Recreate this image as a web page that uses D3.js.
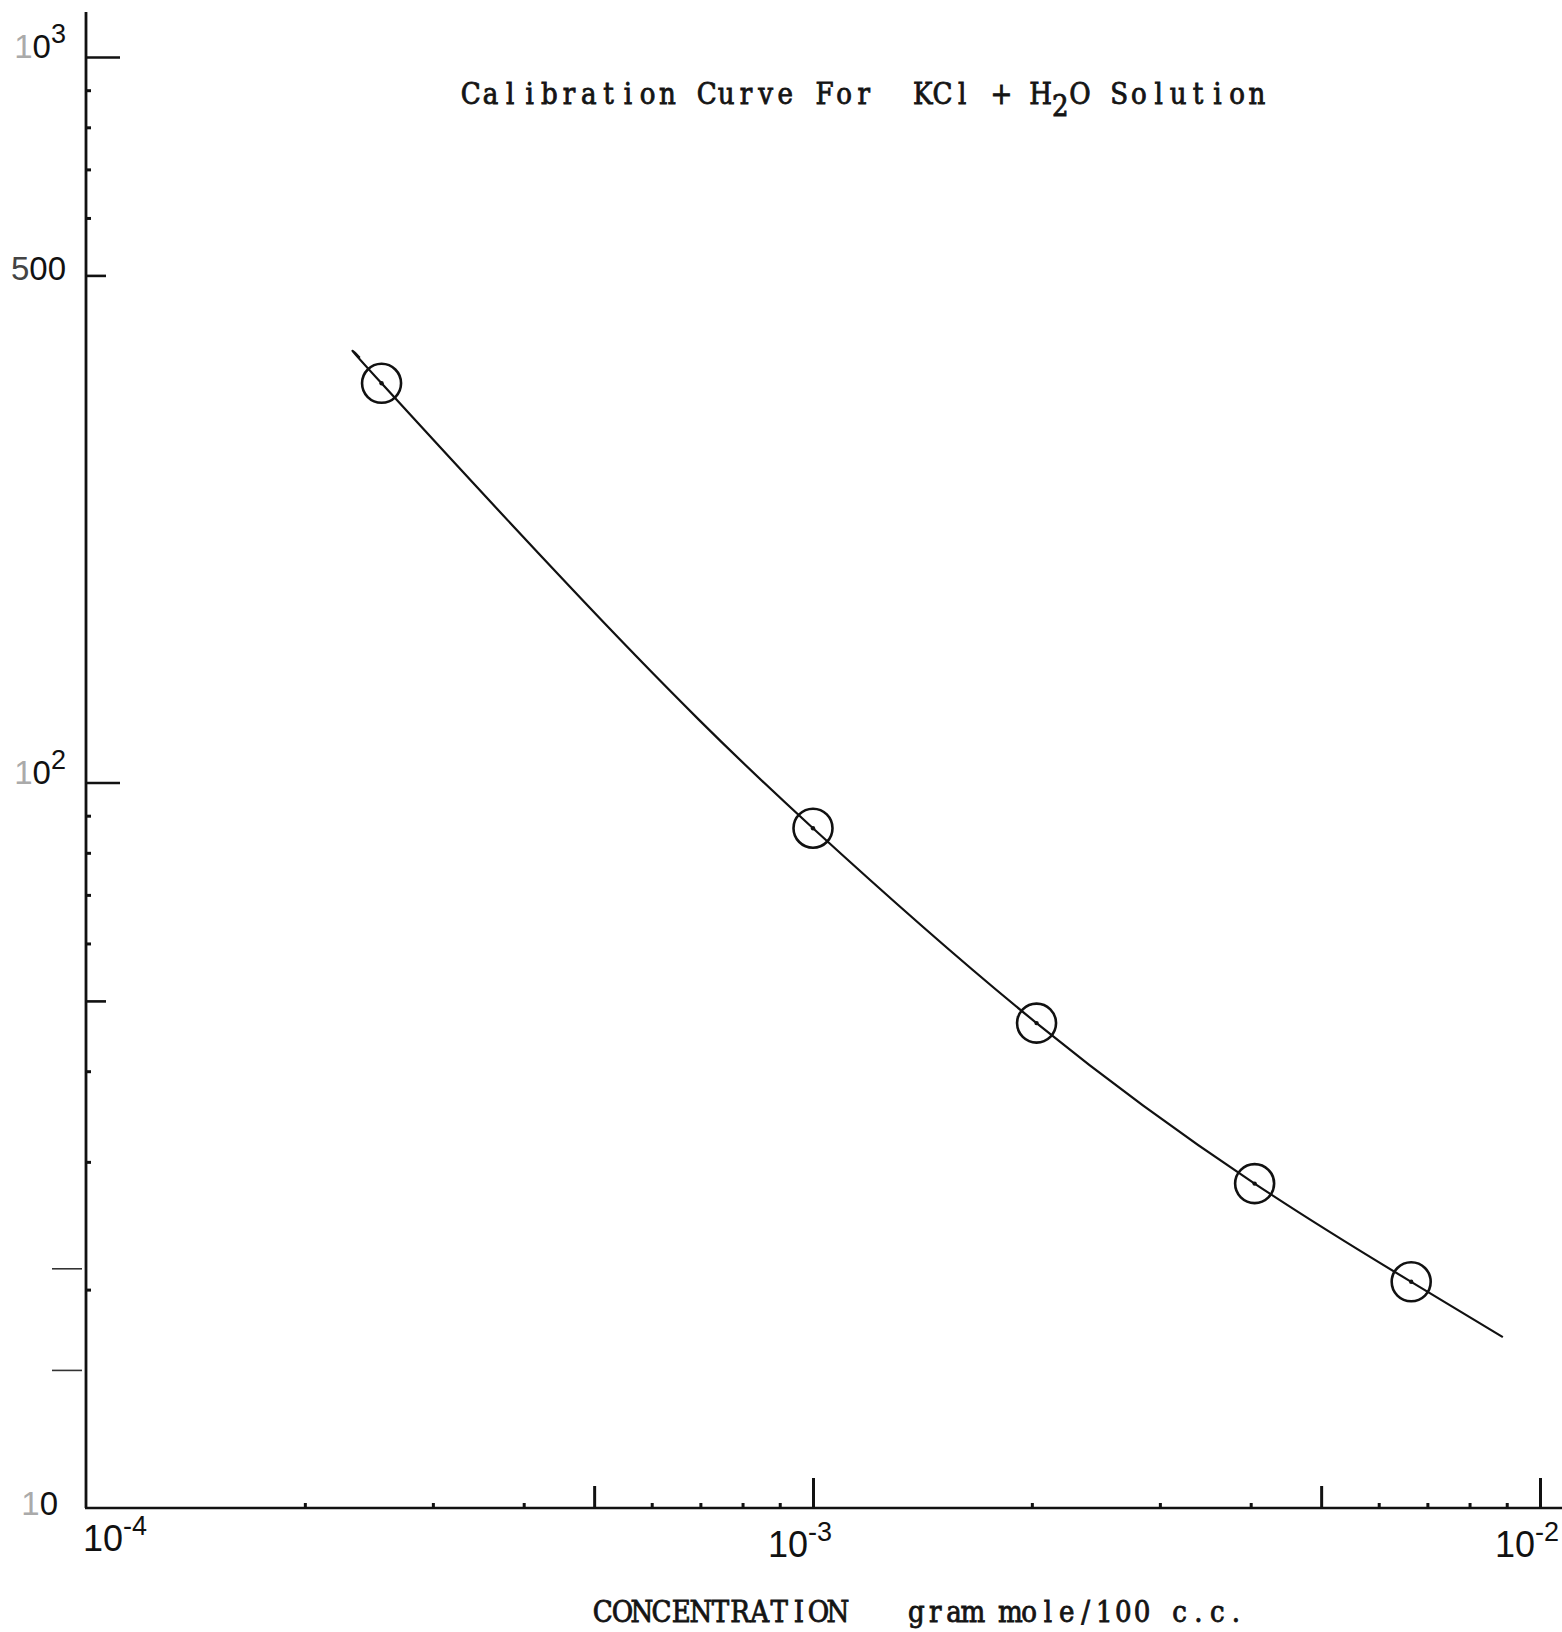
<!DOCTYPE html>
<html><head><meta charset="utf-8">
<script src="https://cdn.jsdelivr.net/npm/d3@7"></script>
<style>body{margin:0;background:#fff;overflow:hidden}svg{display:block}</style>
</head><body>
<script>
// Measured points (concentration in gram mole/100 c.c.)
const concentration = [2.55e-4, 1.0e-3, 2.03e-3, 4.05e-3, 6.65e-3];
const reading = [355, 86.5, 46.6, 28.0, 20.5];
// Hand-drawn smooth calibration curve
const curveConc = [2.38e-4, 2.55e-4, 4.61e-4, 6.97e-4, 1.0e-3, 2.03e-3, 4.05e-3, 6.65e-3, 8.89e-3];
const curveReading = [385, 355, 187, 122, 86.5, 46.6, 28.0, 20.5, 17.2];

const xMajorTicks = [1e-3, 1e-2];
const xMidTicks = [5e-4, 5e-3];
const xMinorTicks = [2e-4, 3e-4, 4e-4, 6e-4, 7e-4, 8e-4, 9e-4, 2e-3, 3e-3, 4e-3, 6e-3, 7e-3, 8e-3, 9e-3];
const yMajorTicks = [1000, 100];
const yMidTicks = [500, 50];
const yMinorTicks = [900, 800, 700, 600, 90, 80, 70, 60, 40, 30, 20];
const yLeftMarks = [21.4, 15.5];

const xLabelValues = [1e-4, 1e-3, 1e-2];
const xLabelExps = ["-4", "-3", "-2"];
const yLabelValues = [1000, 500, 100, 10];
const yLabelLead = ["1", "5", "1", "1"];
const yLabelRest = ["0", "00", "0", "0"];
const yLabelExps = ["3", "", "2", ""];

const titleText = "Calibration Curve For  KCl + H2O Solution";
const xAxisTitleParts = ["CONCENTRATION", "gram mole/100 c.c."];

const W = 1562, H = 1632;
const svg = d3.select("body").append("svg").attr("width", W).attr("height", H)
  .style("background", "#fff");

const x = d3.scaleLog().domain([1e-4, 1e-2]).range([86, 1540]);
const y = d3.scaleLog().domain([10, 1000]).range([1508, 57]);

const x0 = x(1e-4), y0 = y(10);

// axis lines
svg.append("line").attr("x1", x0).attr("x2", x0).attr("y1", 12).attr("y2", y0)
  .attr("stroke", "#111").attr("stroke-width", 2.8);
svg.append("line").attr("x1", x0 - 1).attr("x2", W).attr("y1", y0).attr("y2", y0)
  .attr("stroke", "#111").attr("stroke-width", 2.6);

function yTicks(vals, len, w) {
  const g = svg.append("g").attr("transform", `translate(${x0},0)`)
    .call(d3.axisRight(y).tickValues(vals).tickSize(len).tickFormat(""));
  g.select(".domain").remove();
  g.selectAll("line").attr("stroke", "#111").attr("stroke-width", w);
}
function xTicks(vals, len, w) {
  const g = svg.append("g").attr("transform", `translate(0,${y0})`)
    .call(d3.axisTop(x).tickValues(vals).tickSize(len).tickFormat(""));
  g.select(".domain").remove();
  g.selectAll("line").attr("stroke", "#111").attr("stroke-width", w);
}
yTicks(yMajorTicks, 34, 2.6);
yTicks(yMidTicks, 20, 2.6);
yTicks(yMinorTicks, 5, 3);
xTicks(xMajorTicks, 30, 3);
xTicks(xMidTicks, 22, 3);
xTicks(xMinorTicks, 5, 3);

// faint stray marks left of y-axis
const lm = svg.append("g").attr("transform", `translate(${x0 - 4},0)`)
  .call(d3.axisLeft(y).tickValues(yLeftMarks).tickSize(30).tickFormat(""));
lm.select(".domain").remove();
lm.selectAll("line").attr("stroke", "#333").attr("stroke-width", 1.6);

// y labels
const sans = "'Liberation Sans', Arial, sans-serif";
yLabelValues.forEach((v, i) => {
  const t = svg.append("text")
    .attr("x", i === 1 ? 66 : (yLabelExps[i] ? 66 : 58))
    .attr("y", y(v) + (i === 3 ? 7 : (i === 1 ? 5 : 1)))
    .attr("text-anchor", "end")
    .attr("font-family", sans)
    .attr("font-size", 33).attr("fill", "#111");
  t.append("tspan").text(yLabelLead[i]).attr("fill", i === 1 ? "#444" : "#aaa");
  t.append("tspan").text(yLabelRest[i]);
  if (yLabelExps[i]) {
    t.append("tspan").text(yLabelExps[i]).attr("font-size", 27).attr("dy", -15);
  }
});

// x labels
xLabelValues.forEach((v, i) => {
  const t = svg.append("text")
    .attr("x", x(v) + (i === 0 ? -3 : -45))
    .attr("y", i === 0 ? 1551 : 1557)
    .attr("font-family", sans)
    .attr("font-size", 36).attr("fill", "#111");
  t.append("tspan").text("10");
  t.append("tspan").text(xLabelExps[i]).attr("font-size", 27).attr("dy", -16);
});

// curve
const line = d3.line()
  .x(d => x(d[0])).y(d => y(d[1]))
  .curve(d3.curveNatural);
svg.append("path")
  .datum(curveConc.map((c, i) => [c, curveReading[i]]))
  .attr("d", line).attr("fill", "none")
  .attr("stroke", "#111").attr("stroke-width", 2.2);

// points
const pts = concentration.map((c, i) => [c, reading[i]]);
svg.selectAll("circle.pt").data(pts).enter().append("circle")
  .attr("class", "pt")
  .attr("cx", d => x(d[0])).attr("cy", d => y(d[1])).attr("r", 19.5)
  .attr("fill", "none").attr("stroke", "#111").attr("stroke-width", 2.6);
svg.selectAll("circle.dot").data(pts).enter().append("circle")
  .attr("class", "dot")
  .attr("cx", d => x(d[0])).attr("cy", d => y(d[1])).attr("r", 2.2)
  .attr("fill", "#111");

// typewriter-style text: each character in a fixed cell
const typeFont = "'DejaVu Serif Condensed', 'DejaVu Serif', serif";
function typewrite(str, startX, baseY, cell, subIdx) {
  const t = svg.append("text")
    .attr("x", startX + 0.5 * cell).attr("y", baseY)
    .attr("font-family", typeFont)
    .attr("font-stretch", "condensed")
    .attr("font-size", 29).attr("fill", "#141414")
    .attr("stroke", "#141414").attr("stroke-width", 0.8)
    .attr("text-anchor", "middle")
    .style("white-space", "pre");
  Array.from(str).forEach((ch, i) => {
    t.append("tspan")
      .attr("x", startX + (i + 0.5) * cell)
      .attr("y", baseY + (i === subIdx ? 12 : 0))
      .text(ch);
  });
}
typewrite(titleText, 461, 104, 19.65, titleText.indexOf("2"));
typewrite(xAxisTitleParts[0], 593, 1622, 19.6, -1);
typewrite(" " + xAxisTitleParts[1], 907 - 18.8, 1622, 18.8, -1);
</script>
</body></html>
